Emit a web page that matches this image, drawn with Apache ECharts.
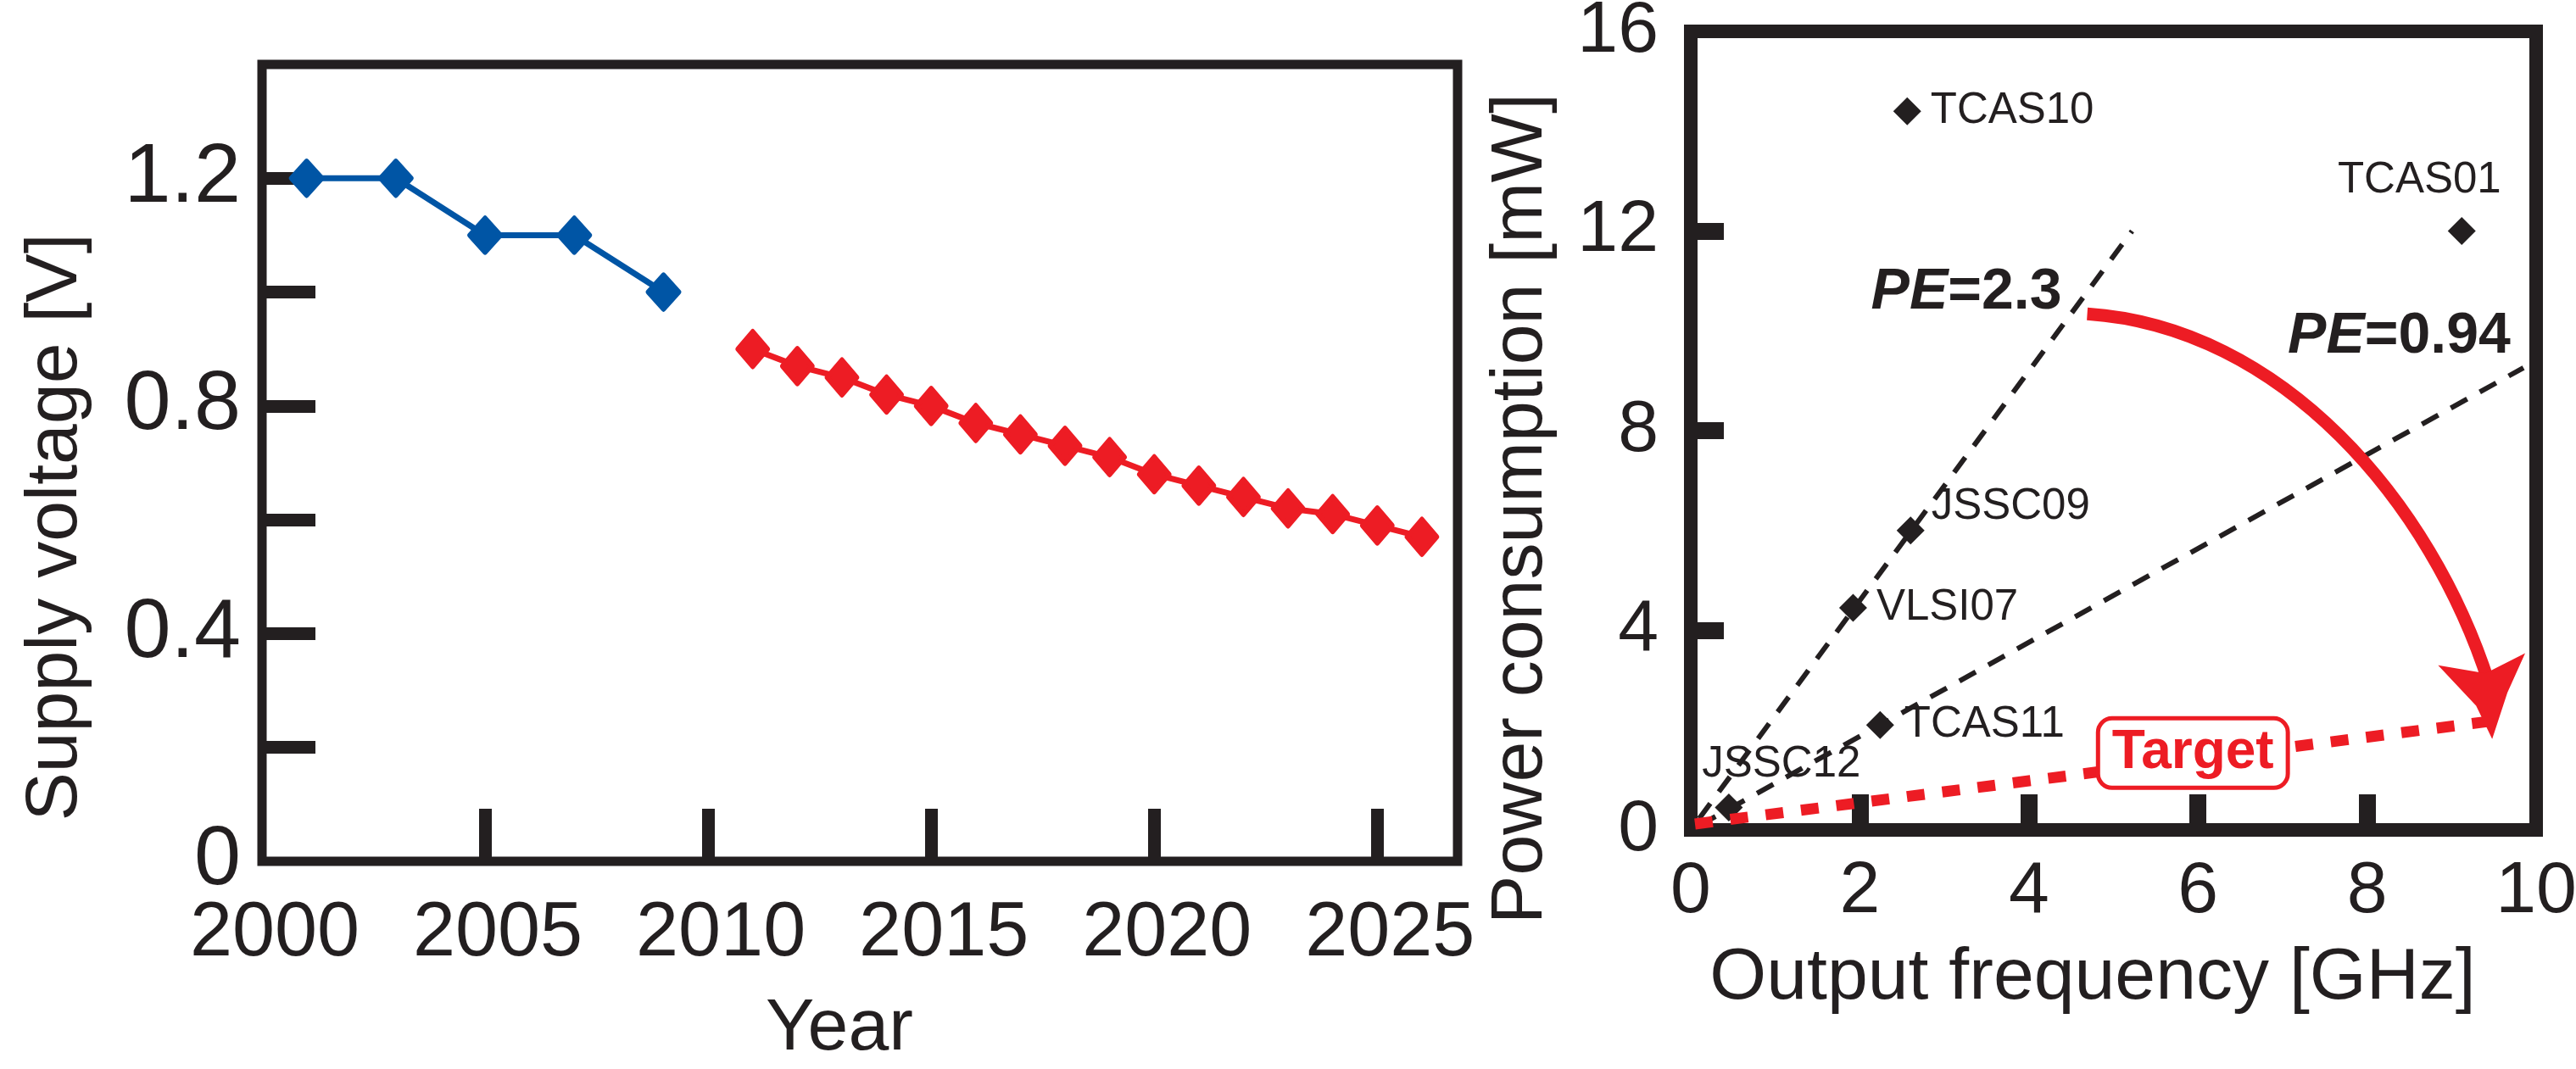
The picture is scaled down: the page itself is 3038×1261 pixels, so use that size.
<!DOCTYPE html>
<html>
<head>
<meta charset="utf-8">
<script src="https://cdn.jsdelivr.net/npm/echarts@6/dist/echarts.min.js"></script>
<style>
  html, body { margin: 0; padding: 0; background: #ffffff; }
  #chart { width: 3038px; height: 1261px; }
</style>
</head>
<body>
<div id="chart"></div>
<script>
// ---- Supply voltage trend ----
const yearsMeasured = [2001, 2003, 2005, 2007, 2009];
const voltageMeasured = [1.2, 1.2, 1.1, 1.1, 1.0];
const yearsRoadmap = [2011, 2012, 2013, 2014, 2015, 2016, 2017, 2018, 2019, 2020, 2021, 2022, 2023, 2024, 2025, 2026];
const voltageRoadmap = [0.90, 0.87, 0.85, 0.82, 0.80, 0.77, 0.75, 0.73, 0.71, 0.68, 0.66, 0.64, 0.62, 0.61, 0.59, 0.57];
const yearTickLabels = [2000, 2005, 2010, 2015, 2020, 2025];
const yearTicks = [2005, 2010, 2015, 2020, 2025];
const voltageTickLabels = [0, 0.4, 0.8, 1.2];
const voltageTicks = [0.2, 0.4, 0.6, 0.8, 1.0, 1.2];

// ---- Power vs. output frequency ----
const designNames = ['TCAS10', 'TCAS01', 'JSSC09', 'VLSI07', 'TCAS11', 'JSSC12'];
const designFreq = [2.56, 9.12, 2.6, 1.92, 2.24, 0.45];
const designPower = [14.4, 12.0, 6.0, 4.45, 2.1, 0.45];
const pe23Line = [[0.1, 0.23], [5.22, 12.0]];
const pe094Line = [[0.1, 0.09], [9.85, 9.26]];
const targetLine = [[0.05, 0.12], [9.65, 2.22]];
const freqTickLabels = [0, 2, 4, 6, 8, 10];
const freqTicks = [2, 4, 6, 8];
const powerTickLabels = [0, 4, 8, 12, 16];
const powerTicks = [4, 8, 12];

// annotation anchors (data units)
const peNotes = [
  { value: '2.3', at: [3.26, 10.76] },
  { value: '0.94', at: [8.38, 9.88] }
];
const targetNoteAt = [5.94, 1.54];
const arrowArc = [[4.69, 10.34], [7.0, 10.08], [8.76, 6.55], [9.44, 2.95]];
const arrowHead = [[8.84, 3.30], [9.40, 3.14], [9.87, 3.54], [9.66, 2.75], [9.48, 1.82], [9.29, 2.49]];

const INK = '#231f20';
const BLUE = '#0055a5';
const RED = '#ed1c24';
const FONT = '"Liberation Sans", Arial, Helvetica, sans-serif';

const labelPlacement = {
  TCAS10: { position: 'right', distance: 11 },
  TCAS01: { position: 'top', distance: 18, offset: [-50, 0] },
  JSSC09: { position: 'right', distance: 8, offset: [0, -28] },
  VLSI07: { position: 'right', distance: 11 },
  TCAS11: { position: 'right', distance: 12 },
  JSSC12: { position: 'top', distance: 9, offset: [62, 0] }
};

const zip = (xs, ys) => xs.map((x, i) => [x, ys[i]]);
const plain = v => String(v);

const chart = echarts.init(document.getElementById('chart'));

const diamondStyle = color => ({
  color: color,
  borderColor: color,
  borderWidth: 6,
  borderJoin: 'round',
  opacity: 1
});

const option = {
  animation: false,
  backgroundColor: '#ffffff',
  textStyle: { fontFamily: FONT, color: INK },
  grid: [
    { left: 309, top: 76, width: 1410, height: 940, show: true, borderWidth: 11, borderColor: INK,
      backgroundColor: 'transparent', containLabel: false, outerBoundsMode: 'none' },
    { left: 1994, top: 37, width: 997, height: 942, show: true, borderWidth: 16, borderColor: INK,
      backgroundColor: 'transparent', containLabel: false, outerBoundsMode: 'none' }
  ],
  xAxis: [
    {
      gridIndex: 0, type: 'value', min: 2000, max: 2026.8, interval: 5,
      axisLine: { show: false }, splitLine: { show: false },
      axisTick: { show: true, inside: true, length: 62, customValues: yearTicks,
        lineStyle: { width: 15, color: INK } },
      axisLabel: { show: true, margin: 41, fontSize: 90, color: INK, fontFamily: FONT,
        customValues: yearTickLabels, formatter: plain, padding: [0, 0, 0, 30] },
      name: 'Year', nameLocation: 'middle', nameGap: 155,
      nameTextStyle: { fontSize: 86, color: INK, fontFamily: FONT, padding: [0, 48, 0, 0] }
    },
    {
      gridIndex: 1, type: 'value', min: 0, max: 10, interval: 2,
      axisLine: { show: false }, splitLine: { show: false },
      axisTick: { show: true, inside: true, length: 42, customValues: freqTicks,
        lineStyle: { width: 20, color: INK } },
      axisLabel: { show: true, margin: 30, fontSize: 86, color: INK, fontFamily: FONT,
        customValues: freqTickLabels, formatter: plain },
      name: 'Output frequency [GHz]', nameLocation: 'middle', nameGap: 132,
      nameTextStyle: { fontSize: 86, color: INK, fontFamily: FONT, padding: [0, 49, 0, 0] }
    }
  ],
  yAxis: [
    {
      gridIndex: 0, type: 'value', min: 0, max: 1.4, interval: 0.2,
      axisLine: { show: false }, splitLine: { show: false },
      axisTick: { show: true, inside: true, length: 63, customValues: voltageTicks,
        lineStyle: { width: 15, color: INK } },
      axisLabel: { show: true, margin: 25, fontSize: 99, color: INK, fontFamily: FONT,
        customValues: voltageTickLabels, formatter: plain },
      name: 'Supply voltage [V]', nameLocation: 'middle', nameGap: 200,
      nameTextStyle: { fontSize: 86, color: INK, fontFamily: FONT, padding: [0, 152, 0, 0] }
    },
    {
      gridIndex: 1, type: 'value', min: 0, max: 16, interval: 4,
      axisLine: { show: false }, splitLine: { show: false },
      axisTick: { show: true, inside: true, length: 39, customValues: powerTicks,
        lineStyle: { width: 20, color: INK } },
      axisLabel: { show: true, margin: 38, fontSize: 86, color: INK, fontFamily: FONT,
        customValues: powerTickLabels, formatter: plain },
      name: 'Power consumption [mW]', nameLocation: 'middle', nameGap: 157,
      nameTextStyle: { fontSize: 86, color: INK, fontFamily: FONT, padding: [0, 184, 0, 0] }
    }
  ],
  series: [
    // supply voltage, measured generations
    {
      type: 'line', xAxisIndex: 0, yAxisIndex: 0,
      data: zip(yearsMeasured, voltageMeasured),
      symbol: 'diamond', symbolSize: [36, 40], showSymbol: true,
      lineStyle: { color: BLUE, width: 7, opacity: 1 },
      itemStyle: diamondStyle(BLUE),
      z: 3
    },
    // supply voltage, roadmap
    {
      type: 'line', xAxisIndex: 0, yAxisIndex: 0,
      data: zip(yearsRoadmap, voltageRoadmap),
      symbol: 'diamond', symbolSize: [35, 41], showSymbol: true,
      lineStyle: { color: RED, width: 7, opacity: 1 },
      itemStyle: diamondStyle(RED),
      z: 3
    },
    // power-efficiency guide lines
    {
      type: 'line', xAxisIndex: 1, yAxisIndex: 1, data: pe23Line,
      showSymbol: false, symbol: 'none', clip: false,
      lineStyle: { color: INK, width: 6, type: [22, 17], cap: 'butt', opacity: 1 }, z: 2
    },
    {
      type: 'line', xAxisIndex: 1, yAxisIndex: 1, data: pe094Line,
      showSymbol: false, symbol: 'none', clip: false,
      lineStyle: { color: INK, width: 6, type: [22, 17], cap: 'butt', opacity: 1 }, z: 2
    },
    // published designs
    {
      type: 'scatter', xAxisIndex: 1, yAxisIndex: 1,
      symbol: 'diamond', symbolSize: 33,
      itemStyle: { color: INK, opacity: 1 },
      data: designNames.map((n, i) => ({
        name: n,
        value: [designFreq[i], designPower[i]],
        label: Object.assign({
          show: true, formatter: '{b}', fontSize: 51, color: INK, fontFamily: FONT, opacity: 1
        }, labelPlacement[n])
      })),
      z: 3
    },
    // target efficiency line
    {
      type: 'line', xAxisIndex: 1, yAxisIndex: 1, data: targetLine,
      showSymbol: false, symbol: 'none', clip: false,
      lineStyle: { color: RED, width: 13, type: [21, 21], cap: 'butt', opacity: 1 }, z: 4
    },
    // "Target" tag
    {
      type: 'scatter', xAxisIndex: 1, yAxisIndex: 1,
      symbolSize: 0, silent: true,
      itemStyle: { opacity: 1 },
      data: [{ name: 'Target', value: targetNoteAt }],
      label: {
        show: true, position: 'inside', formatter: '{b}',
        fontSize: 64, fontWeight: 'bold', color: RED, fontFamily: FONT,
        lineHeight: 64, opacity: 1,
        backgroundColor: '#ffffff', borderColor: RED, borderWidth: 5, borderRadius: 14,
        padding: [7, 14, 6, 14]
      },
      z: 5
    },
    // PE notes
    {
      type: 'scatter', xAxisIndex: 1, yAxisIndex: 1,
      symbolSize: 0, silent: true,
      itemStyle: { opacity: 1 },
      data: peNotes.map(p => ({ name: p.value, value: p.at })),
      label: {
        show: true, position: 'inside', opacity: 1,
        formatter: p => '{i|PE}{n|=' + p.name + '}',
        rich: {
          i: { fontSize: 68, fontWeight: 'bold', fontStyle: 'italic', color: INK, fontFamily: FONT },
          n: { fontSize: 68, fontWeight: 'bold', color: INK, fontFamily: FONT }
        }
      },
      z: 5
    },
    // curved arrow towards the target
    {
      type: 'custom', xAxisIndex: 1, yAxisIndex: 1, clip: false,
      data: [arrowArc[0]],
      renderItem: function (params, api) {
        const p = arrowArc.map(pt => api.coord(pt));
        const head = arrowHead.map(pt => api.coord(pt));
        return {
          type: 'group',
          children: [
            {
              type: 'bezierCurve',
              shape: {
                x1: p[0][0], y1: p[0][1],
                cpx1: p[1][0], cpy1: p[1][1],
                cpx2: p[2][0], cpy2: p[2][1],
                x2: p[3][0], y2: p[3][1]
              },
              style: { stroke: RED, lineWidth: 15, fill: 'none', lineCap: 'butt' }
            },
            {
              type: 'polygon',
              shape: { points: head },
              style: { fill: RED, stroke: 'none' }
            }
          ]
        };
      },
      z: 6
    }
  ]
};

chart.setOption(option);
</script>
</body>
</html>
